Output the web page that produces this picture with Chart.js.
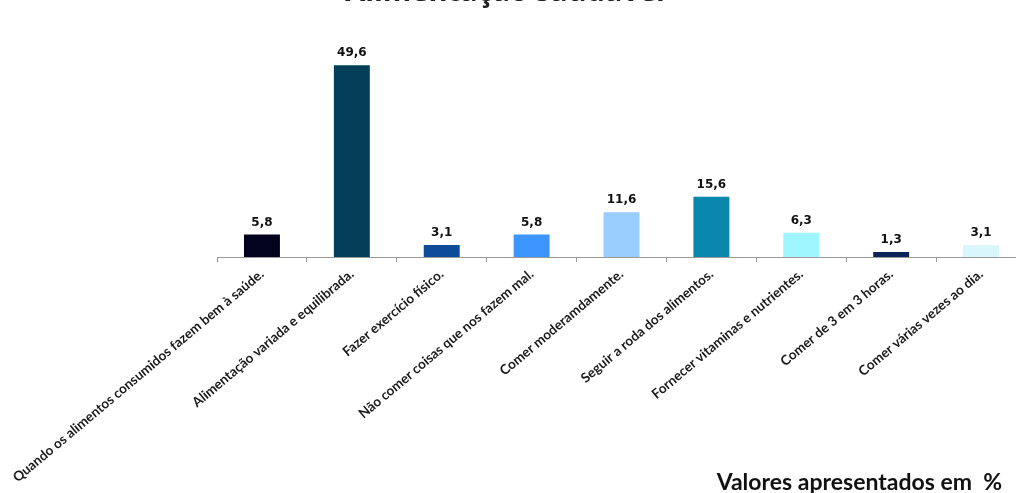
<!DOCTYPE html>
<html><head><meta charset="utf-8">
<script src="https://cdn.jsdelivr.net/npm/chart.js@4"></script>
<style>
html,body{margin:0;padding:0;background:#fff;overflow:hidden;width:1016px;height:493px;}
#wrap{position:absolute;left:0;top:0;width:1040px;height:493px;}
</style></head>
<body>
<div id="wrap"><canvas id="c"></canvas></div>
<script>
const categories = [
  "Quando os alimentos consumidos fazem bem à saúde.",
  "Alimentação variada e equilibrada.",
  "Fazer exercício físico.",
  "Não comer coisas que nos fazem mal.",
  "Comer moderamdamente.",
  "Seguir a roda dos alimentos.",
  "Fornecer vitaminas e nutrientes.",
  "Comer de 3 em 3 horas.",
  "Comer várias vezes ao dia."
];
const values = [5.8, 49.6, 3.1, 5.8, 11.6, 15.6, 6.3, 1.3, 3.1];
const barColors = ["#03031F","#024059","#0E4C9A","#3D95FF","#99CCFF","#0A87AD","#A0F6FF","#0A2458","#D8F6FC"];
const chartTitle = "Alimentação saudável";
const unitNote = "Valores apresentados em  %";

const extras = {
  id: 'extras',
  afterDatasetsDraw(chart) {
    const ctx = chart.ctx;
    const meta = chart.getDatasetMeta(0);
    ctx.save();
    ctx.fillStyle = '#111';
    ctx.font = 'bold 12px "DejaVu Sans"';
    ctx.textAlign = 'center';
    ctx.textBaseline = 'alphabetic';
    meta.data.forEach((bar, i) => {
      ctx.fillText(values[i].toFixed(1).replace('.', ','), bar.x, bar.y - 9);
    });
    ctx.font = 'bold 29px "Open Sans"';
    ctx.fillStyle = '#222';
    ctx.fillText(chartTitle, 505, 1);
    ctx.font = 'bold 23px Lato';
    ctx.textAlign = 'right';
    ctx.fillStyle = '#111';
    ctx.fillText(unitNote, 1002, 490);
    ctx.restore();
  }
};

new Chart(document.getElementById('c'), {
  type: 'bar',
  data: {
    labels: categories,
    datasets: [{
      data: values,
      backgroundColor: barColors,
      borderColor: barColors,
      borderWidth: 0,
      categoryPercentage: 0.8,
      barPercentage: 0.5
    }]
  },
  options: {
    responsive: true,
    maintainAspectRatio: false,
    animation: false,
    layout: { padding: { left: 217, right: 14, top: 25, bottom: 0 } },
    plugins: { legend: { display: false }, tooltip: { enabled: false } },
    scales: {
      x: {
        grid: { display: true, drawOnChartArea: false, drawTicks: true, tickLength: 5, color: '#9a9a9a', offset: true },
        border: { display: true, color: '#9a9a9a', width: 1 },
        ticks: {
          autoSkip: false, maxRotation: 40, minRotation: 40, padding: 4,
          color: '#1a1a1a', font: { family: 'Lato', weight: 'bold', size: 13.5 }
        },
        afterFit(scale) { scale.height = 236; scale.paddingLeft = 0; scale.paddingRight = 0; }
      },
      y: { display: false, min: 0, max: 60 }
    }
  },
  plugins: [extras]
});
</script>
</body></html>
